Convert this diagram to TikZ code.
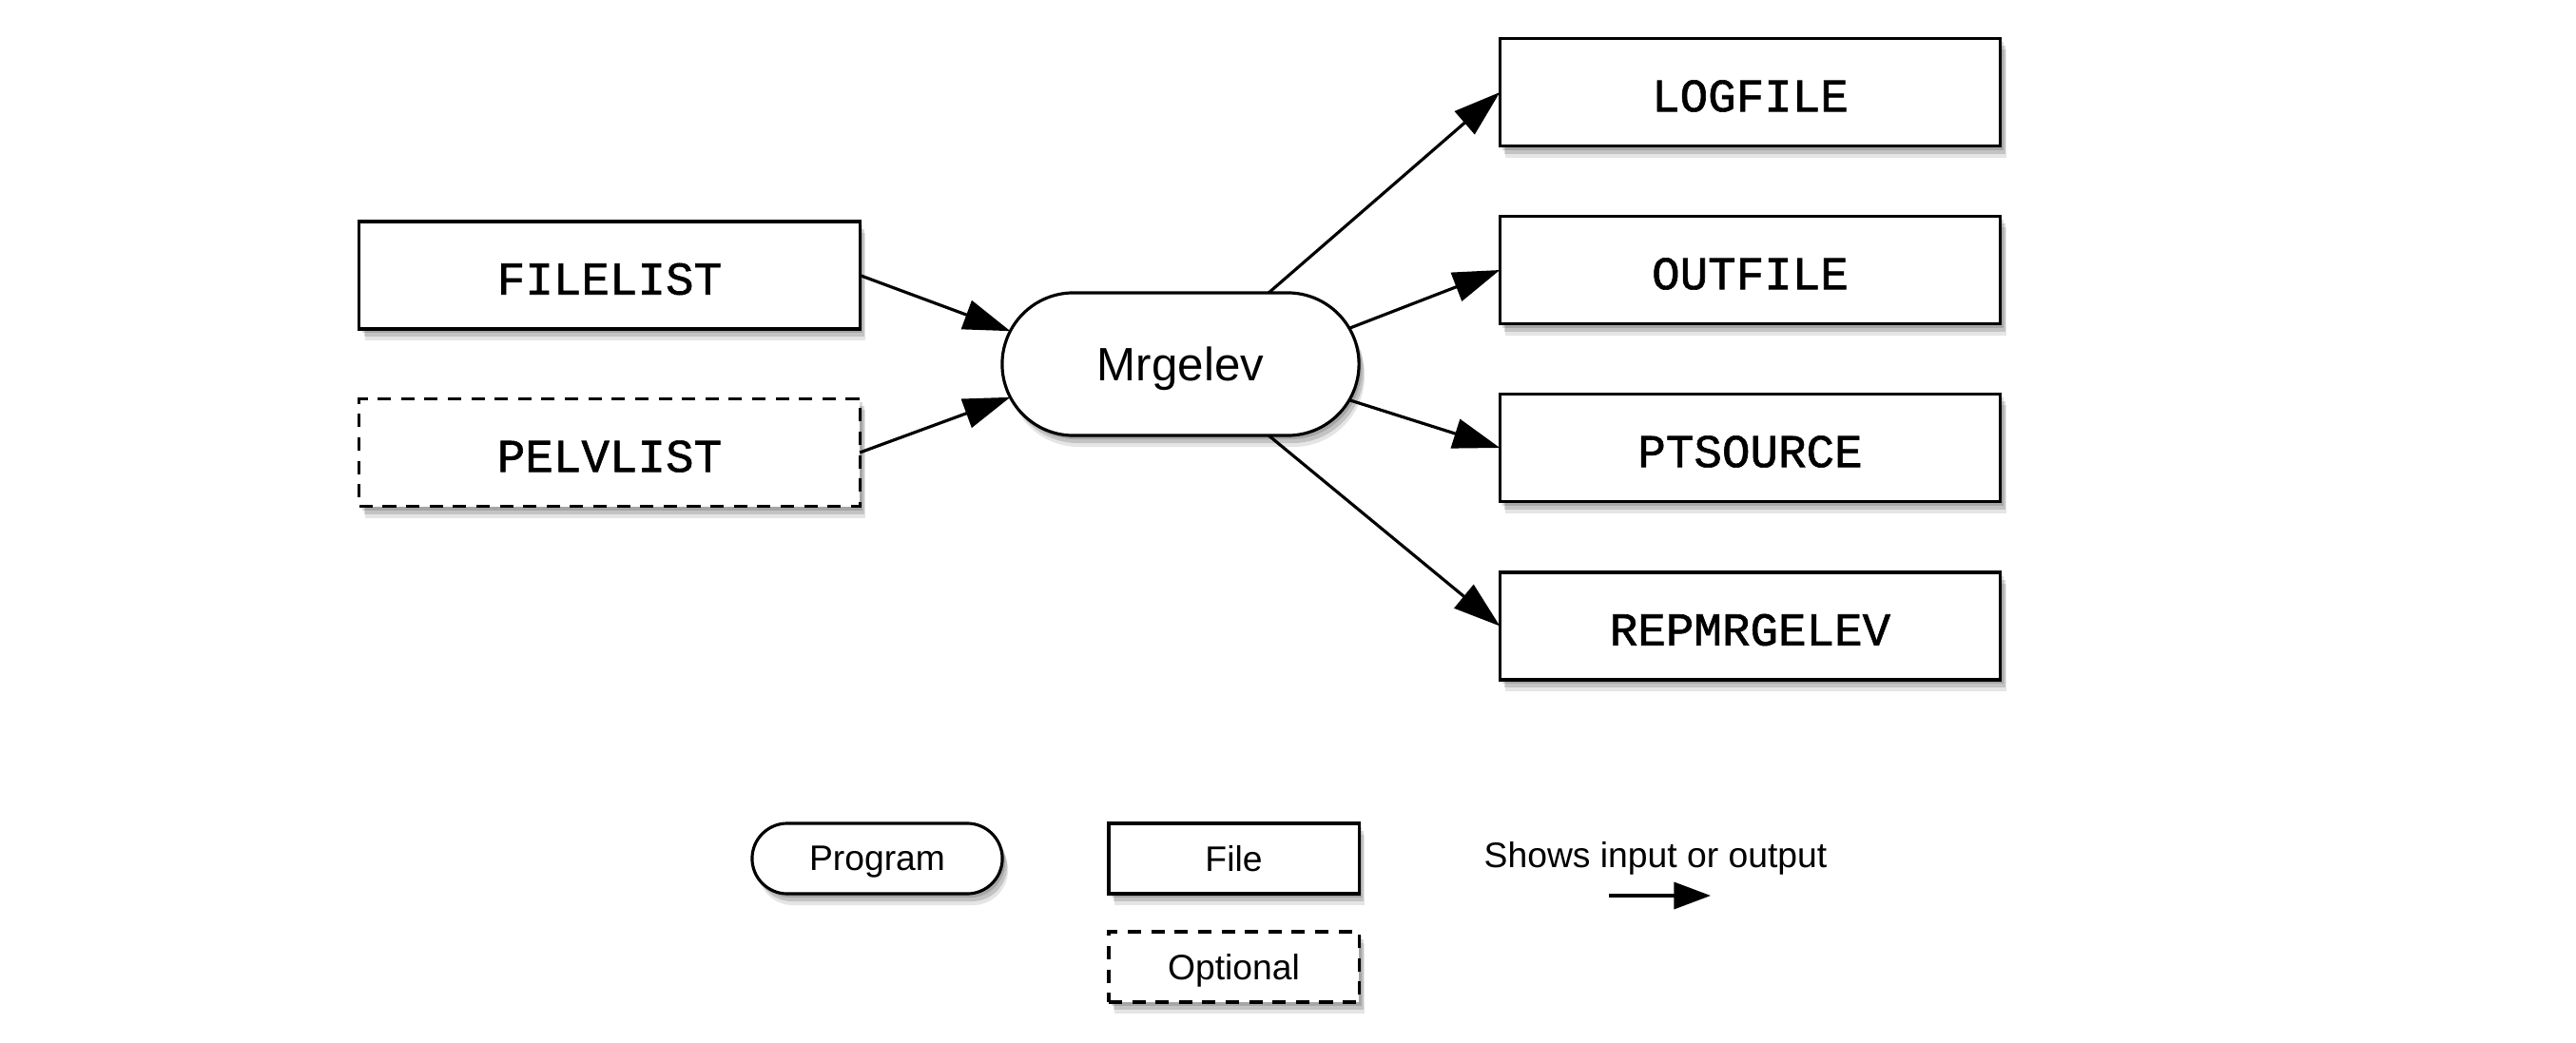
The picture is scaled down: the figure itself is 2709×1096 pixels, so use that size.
\documentclass[tikz,border=0pt]{standalone}
\usepackage{fontspec}
\setmainfont{Liberation Sans}
\newfontfamily\filefont{Liberation Mono}[FakeBold=1.2]
\usepackage{tikz}
\usetikzlibrary{arrows.meta}
\usetikzlibrary{shapes.misc}
\usetikzlibrary{shadows}
\tikzstyle{box}=[draw, line width=0.9pt, fill=white, inner sep=0, outer sep=0, text depth=0pt,
                 % Soft shadow below and to the right.
                 drop shadow={shadow xshift=0.03cm, shadow yshift=-0.04cm, fill=black, opacity=0.15},
                 drop shadow={shadow xshift=0.05cm, shadow yshift=-0.08cm, fill=black, opacity=0.15},
                 drop shadow={shadow xshift=0.06cm, shadow yshift=-0.12cm, fill=black, opacity=0.1}]
\tikzstyle{file}=[box, rectangle, minimum width=5.26cm, minimum height=1.13cm, text height=11.5pt,
                  font=\filefont\fontsize{14}{16}\selectfont]
\tikzstyle{optfile}=[file, dash pattern=on 4pt off 3pt]
\tikzstyle{program}=[box, rounded rectangle, minimum width=3.75cm, minimum height=1.5cm,
                     font=\fontsize{14}{16}\selectfont]
\tikzstyle{key}=[box, minimum width=2.63cm, minimum height=0.74cm, font=\fontsize{10.6}{12}\selectfont]
\tikzstyle{flow}=[line width=0.9pt, -{Triangle[length=14pt, width=9pt]}]

\begin{document}
\begin{tikzpicture}[x=0.01cm, y=0.01cm]
    \useasboundingbox (0, 0) rectangle (2709, 1096);
    % Inputs and the program.
    \node[file] (filelist) at (641, 806.5) {FILELIST};
    \node[optfile] (pelvlist) at (641, 620) {PELVLIST};
    \node[program] (mrgelev) at (1241.5, 713) {Mrgelev};
    % Outputs.
    \node[file] (logfile) at (1840.5, 999) {LOGFILE};
    \node[file] (outfile) at (1840.5, 812) {OUTFILE};
    \node[file] (ptsource) at (1840.5, 625) {PTSOURCE};
    \node[file] (repmrgelev) at (1840.5, 437.5) {REPMRGELEV};
    \draw[flow] (filelist.east) -- (mrgelev.169);
    \draw[flow] (pelvlist.east) -- (mrgelev.191);
    \draw[flow] (mrgelev.39) -- (logfile.west);
    \draw[flow] (mrgelev.12) -- (outfile.west);
    \draw[flow] (mrgelev.-12) -- (ptsource.west);
    \draw[flow] (mrgelev.-39) -- (repmrgelev.west);
    % Key.
    \node[key, rounded rectangle] (keyprogram) at (922.5, 193) {Program};
    \node[key, rectangle] (keyfile) at (1297.5, 193) {File};
    \node[key, rectangle, dash pattern=on 4pt off 3pt] (keyoptional) at (1297.5, 79) {Optional};
    \node[font=\fontsize{10.6}{12}\selectfont] (keyflow) at (1741, 193) {Shows input or output};
    \coordinate (flowstart) at (1692, 154);
    \coordinate (flowend) at (1799, 154);
    \draw[flow, -{Triangle[length=11pt, width=8pt]}] (flowstart) -- (flowend);
\end{tikzpicture}
\end{document}
